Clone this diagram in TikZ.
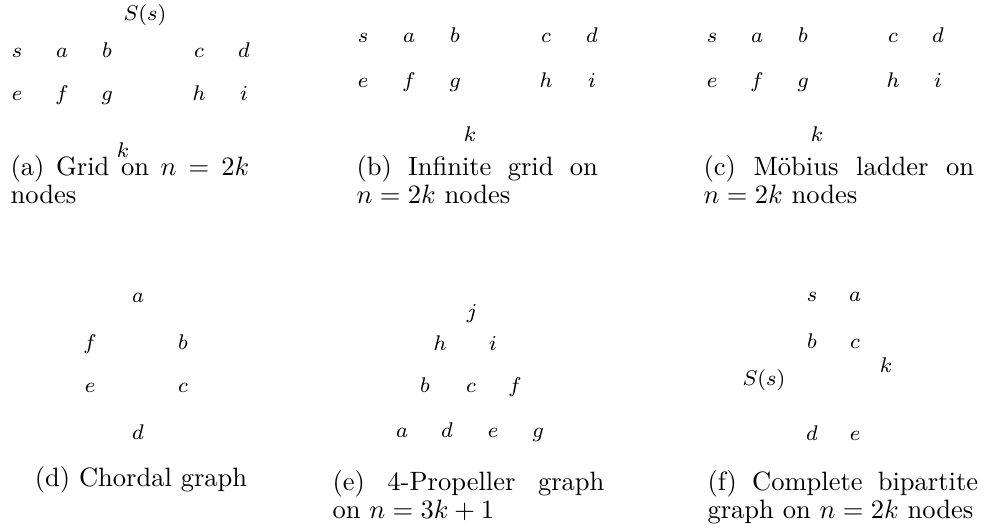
\documentclass[tikz,border=0pt]{standalone}
\usepackage{amsmath,amssymb}
\usepackage{tikz}
\tikzset{
  lbl/.style ={font=\footnotesize,inner sep=0pt,anchor=base},
  capt/.style={font=\fontsize{10}{10.6}\selectfont,align=justify,inner sep=0pt,anchor=base west},
}

\begin{document}
\begin{tikzpicture}[x=0.377pt,y=-0.377pt]
\useasboundingbox (0,0) rectangle (993,531);

% ---- (a) grid -------------------------------------------------------------
\node[lbl] (AS) at (145,20) {$S(s)$};
\foreach \nm/\x in {s/17,a/62,b/107,c/199,d/244}{\node[lbl] (A\nm) at (\x,57) {$\nm$};}
\foreach \nm/\x in {e/17,f/62,g/107,h/199,i/244}{\node[lbl] (A\nm) at (\x,100) {$\nm$};}
\node[lbl] (Ak) at (123,157) {$k$};
\node[capt,text width=90pt] (capA) at (10,175) {(a) Grid on $n=2k$\linebreak nodes};

% ---- (b) infinite grid ----------------------------------------------------
\foreach \nm/\x in {s/363,a/409,b/455,c/546,d/592}{\node[lbl] (B\nm) at (\x,42) {$\nm$};}
\foreach \nm/\x in {e/363,f/409,g/455,h/546,i/592}{\node[lbl] (B\nm) at (\x,87) {$\nm$};}
\node[lbl] (Bk) at (470,141) {$k$};
\node[capt,text width=91pt] (capB) at (356,175) {(b) Infinite grid on\linebreak $n=2k$ nodes};

% ---- (c) Moebius ladder ---------------------------------------------------
\foreach \nm/\x in {s/712,a/757,b/803,c/893,d/938}{\node[lbl] (C\nm) at (\x,42) {$\nm$};}
\foreach \nm/\x in {e/712,f/757,g/803,h/893,i/938}{\node[lbl] (C\nm) at (\x,87) {$\nm$};}
\node[lbl] (Ck) at (817,141) {$k$};
\node[capt,text width=102pt] (capC) at (703,175) {(c) M\"obius ladder on\linebreak $n=2k$ nodes};

% ---- (d) chordal ----------------------------------------------------------
\foreach \nm/\x/\y in {a/138/302,f/90/349,b/183/349,e/90/392,c/183/392,d/138/439}
  {\node[lbl] (D\nm) at (\x,\y) {$\nm$};}
\node[capt,anchor=base] (capD) at (141,486) {(d) Chordal graph};

% ---- (e) propeller --------------------------------------------------------
\foreach \nm/\x/\y in {j/472/318,h/440/350,i/493/350,b/425/392,c/471/392,f/515/392,
                       a/402/437,d/447/437,e/493/437,g/538/437}
  {\node[lbl] (E\nm) at (\x,\y) {$\nm$};}
\node[capt,text width=102.5pt] (capE) at (332,490) {(e) 4-Propeller graph\linebreak on $n=3k+1$};

% ---- (f) complete bipartite -----------------------------------------------
\foreach \nm/\x/\y in {s/812/301,a/855/301,b/812/348,c/855/348,d/812/440,e/855/440}
  {\node[lbl] (F\nm) at (\x,\y) {$\nm$};}
\node[lbl] (Fk) at (886,372) {$k$};
\node[lbl] (FS) at (764,385) {$S(s)$};
\node[capt,text width=102pt] (capF) at (707,490) {(f) Complete bipartite\linebreak graph on $n=2k$ nodes};
\end{tikzpicture}
\end{document}
